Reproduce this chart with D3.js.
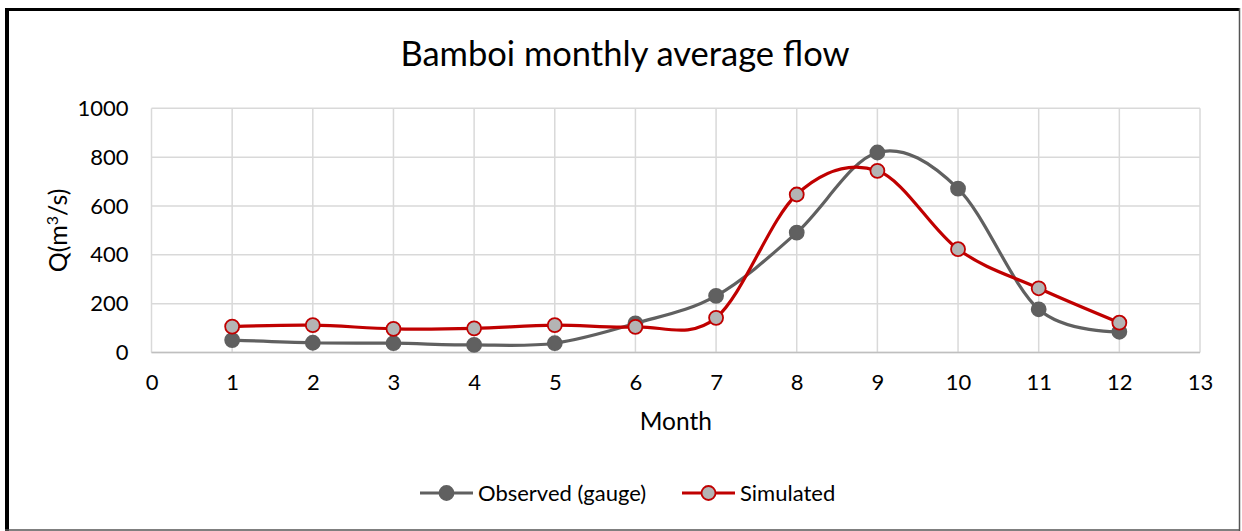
<!DOCTYPE html>
<html>
<head>
<meta charset="utf-8">
<script src="https://cdn.jsdelivr.net/npm/d3@7"></script>
<style>
  body { margin: 0; background: #fff; }
  svg { display: block; }
  text { font-family: "Lato", "Open Sans", sans-serif; fill: #000; }
</style>
</head>
<body>
<svg id="chart" width="1242" height="531"></svg>
<script>
// data
var months = [1, 2, 3, 4, 5, 6, 7, 8, 9, 10, 11, 12];
var observed = [51, 40, 38, 31, 38, 119, 232, 491, 819, 671, 177, 85];
var simulated = [106, 112, 97, 99, 112, 105, 142, 647, 744, 423, 263, 122];
var xTicks = d3.range(0, 14);
var yTicks = [0, 200, 400, 600, 800, 1000];

var svg = d3.select('#chart');
var W = 1242, H = 531;

// outer frame
svg.append('rect').attr('x', 0).attr('y', 0).attr('width', W).attr('height', H).style('fill', '#fff');
svg.append('line').attr('x1', 7).attr('x2', 7).attr('y1', 8).attr('y2', H)
  .style('stroke', '#000').style('stroke-width', 4);
svg.append('line').attr('x1', 5).attr('x2', 1240).attr('y1', 9.5).attr('y2', 9.5)
  .style('stroke', '#000').style('stroke-width', 3);
svg.append('line').attr('x1', 1239.5).attr('x2', 1239.5).attr('y1', 8).attr('y2', H)
  .style('stroke', '#555').style('stroke-width', 1.5);
svg.append('line').attr('x1', 5).attr('x2', 1240).attr('y1', 530).attr('y2', 530)
  .style('stroke', '#555').style('stroke-width', 1.5);

var x = d3.scaleLinear().domain([0, 13]).range([151.5, 1200]);
var y = d3.scaleLinear().domain([0, 1000]).range([352.5, 108.3]);

// gridlines
var grid = svg.append('g');
grid.selectAll('.vg').data(xTicks).enter().append('line')
  .attr('x1', function(d){ return x(d); }).attr('x2', function(d){ return x(d); })
  .attr('y1', y(0)).attr('y2', y(1000))
  .style('stroke', '#d9d9d9').style('stroke-width', 1.5);
grid.selectAll('.hg').data(yTicks).enter().append('line')
  .attr('x1', x(0)).attr('x2', x(13))
  .attr('y1', function(d){ return y(d); }).attr('y2', function(d){ return y(d); })
  .style('stroke', '#d9d9d9').style('stroke-width', 1.5);
svg.append('line').attr('x1', x(0)).attr('x2', x(13)).attr('y1', y(0)).attr('y2', y(0))
  .style('stroke', '#bfbfbf').style('stroke-width', 1.5);

// axes (labels only)
var xAxis = d3.axisBottom(x).tickValues(xTicks).tickSize(0).tickPadding(22);
var gx = svg.append('g').attr('transform', 'translate(0,' + y(0) + ')').call(xAxis);
var yAxis = d3.axisLeft(y).tickValues(yTicks).tickFormat(d3.format('d')).tickSize(0).tickPadding(23);
var gy = svg.append('g').attr('transform', 'translate(' + x(0) + ',0)').call(yAxis);
[gx, gy].forEach(function(g){
  g.select('.domain').remove();
  g.selectAll('text').style('font-family', 'Lato, sans-serif').style('font-size', '22px').style('fill', '#000');
});

// titles
svg.append('text').text('Bamboi monthly average flow')
  .attr('x', 625).attr('y', 66).attr('text-anchor', 'middle').style('font-size', '34.5px');
svg.append('text').text('Month')
  .attr('x', x(6.5)).attr('y', 430).attr('text-anchor', 'middle').style('font-size', '24.5px');
var yt = svg.append('text').attr('transform', 'translate(67,' + y(500) + ') rotate(-90)')
  .attr('text-anchor', 'middle').style('font-size', '25px');
yt.append('tspan').text('Q(m');
yt.append('tspan').text('3').attr('dy', -9).style('font-size', '16px');
yt.append('tspan').text('/s)').attr('dy', 9);

// series
var series = [
  { name: 'Observed (gauge)', values: observed, line: '#606060', fill: '#606060', stroke: '#606060' },
  { name: 'Simulated', values: simulated, line: '#c00000', fill: '#b4b4b4', stroke: '#c00000' }
];

var line = d3.line()
  .x(function(d){ return x(d.m); })
  .y(function(d){ return y(d.v); })
  .curve(d3.curveCardinal.tension(0));

series.forEach(function(s){
  var pts = months.map(function(m, i){ return { m: m, v: s.values[i] }; });
  svg.append('path').datum(pts).attr('d', line)
    .style('fill', 'none').style('stroke', s.line).style('stroke-width', 3.2);
  svg.append('g').selectAll('circle').data(pts).enter().append('circle')
    .attr('cx', function(d){ return x(d.m); })
    .attr('cy', function(d){ return y(d.v); })
    .attr('r', 7)
    .style('fill', s.fill).style('stroke', s.stroke).style('stroke-width', 1.8);
});

// legend
var legendX = [420, 682];
series.forEach(function(s, i){
  var g = svg.append('g').attr('transform', 'translate(' + legendX[i] + ',493)');
  g.append('line').attr('x1', 0).attr('x2', 53).attr('y1', 0).attr('y2', 0)
    .style('stroke', s.line).style('stroke-width', 3.2);
  g.append('circle').attr('cx', 26.5).attr('cy', 0).attr('r', 7)
    .style('fill', s.fill).style('stroke', s.stroke).style('stroke-width', 1.8);
  g.append('text').text(s.name).attr('x', 58).attr('y', 8).style('font-size', '22px');
});
</script>
</body>
</html>
